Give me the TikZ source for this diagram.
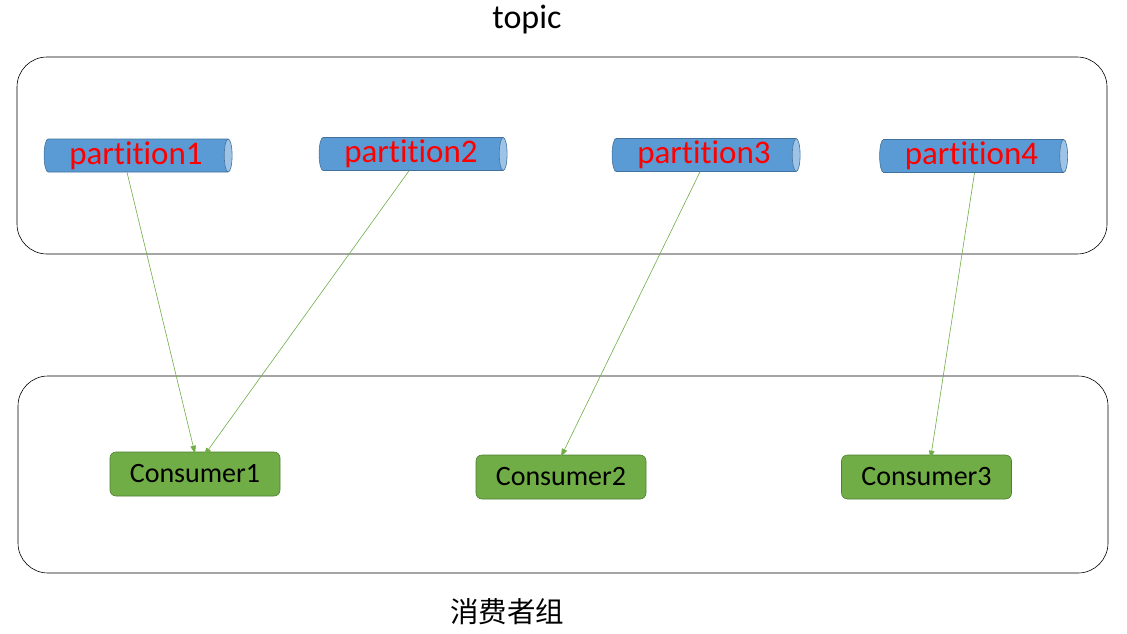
\documentclass[tikz,border=0pt]{standalone}
\usepackage{fontspec}
\setmainfont[Ligatures=NoCommon]{Carlito}
\newfontfamily\cjk{Noto Sans CJK SC}
\usetikzlibrary{shapes.geometric,arrows.meta}
\definecolor{cylfill}{HTML}{5B9BD5}
\definecolor{cylline}{HTML}{41719C}
\definecolor{cylend}{HTML}{9DC3E6}
\definecolor{grfill}{HTML}{70AD47}
\definecolor{grline}{HTML}{507E32}
\tikzset{
  grp/.style={draw=black, line width=0.6pt, rounded corners=30pt},
  part/.style={cylinder, shape border rotate=0, aspect=0.28,
    draw=cylline, line width=0.6pt,
    cylinder uses custom fill, cylinder body fill=cylfill, cylinder end fill=cylend,
    minimum width=33pt, minimum height=188pt, inner sep=0pt,
    text=red, font=\fontsize{33}{33}\selectfont},
  cons/.style={draw=grline, fill=grfill, line width=0.6pt, rounded corners=6pt,
    minimum width=170pt, minimum height=44pt, inner sep=0pt,
    font=\fontsize{28}{28}\selectfont},
  link/.style={draw=grfill, line width=0.6pt, -{Triangle[length=8pt,width=5.5pt]}},
}
\begin{document}
\begin{tikzpicture}[x=1pt,y=-1pt]
\useasboundingbox (0,0) rectangle (1127,634);
\node[font=\fontsize{34}{34}\selectfont] (topic) at (527,20) {topic};
\node[grp, minimum width=1090pt, minimum height=197pt] (tbox) at (562,155.5) {};
\node[grp, minimum width=1090pt, minimum height=197pt] (cbox) at (563,474.5) {};
\node[part] (p1) at (136,155.5) {partition1};
\node[part] (p2) at (411,154) {partition2};
\node[part] (p3) at (704,155) {partition3};
\node[part] (p4) at (971.5,156) {partition4};
\node[cons] (c1) at (195,474) {Consumer1};
\node[cons] (c2) at (561,477) {Consumer2};
\node[cons] (c3) at (926.5,477) {Consumer3};
\node[font=\cjk\fontsize{28.5}{28.5}\selectfont] (grp) at (507,612) {消费者组};
\draw[link] ([xshift=-9pt]p1.south) -- ([yshift=-2pt]c1.north);
\draw[link] ([xshift=-2pt]p2.south) -- ([xshift=9pt,yshift=-4pt]c1.north);
\draw[link] ([xshift=-4pt]p3.south) -- ([yshift=-2pt]c2.north);
\draw[link] ([xshift=3pt]p4.south) -- ([xshift=4pt,yshift=-4pt]c3.north);
\end{tikzpicture}
\end{document}
